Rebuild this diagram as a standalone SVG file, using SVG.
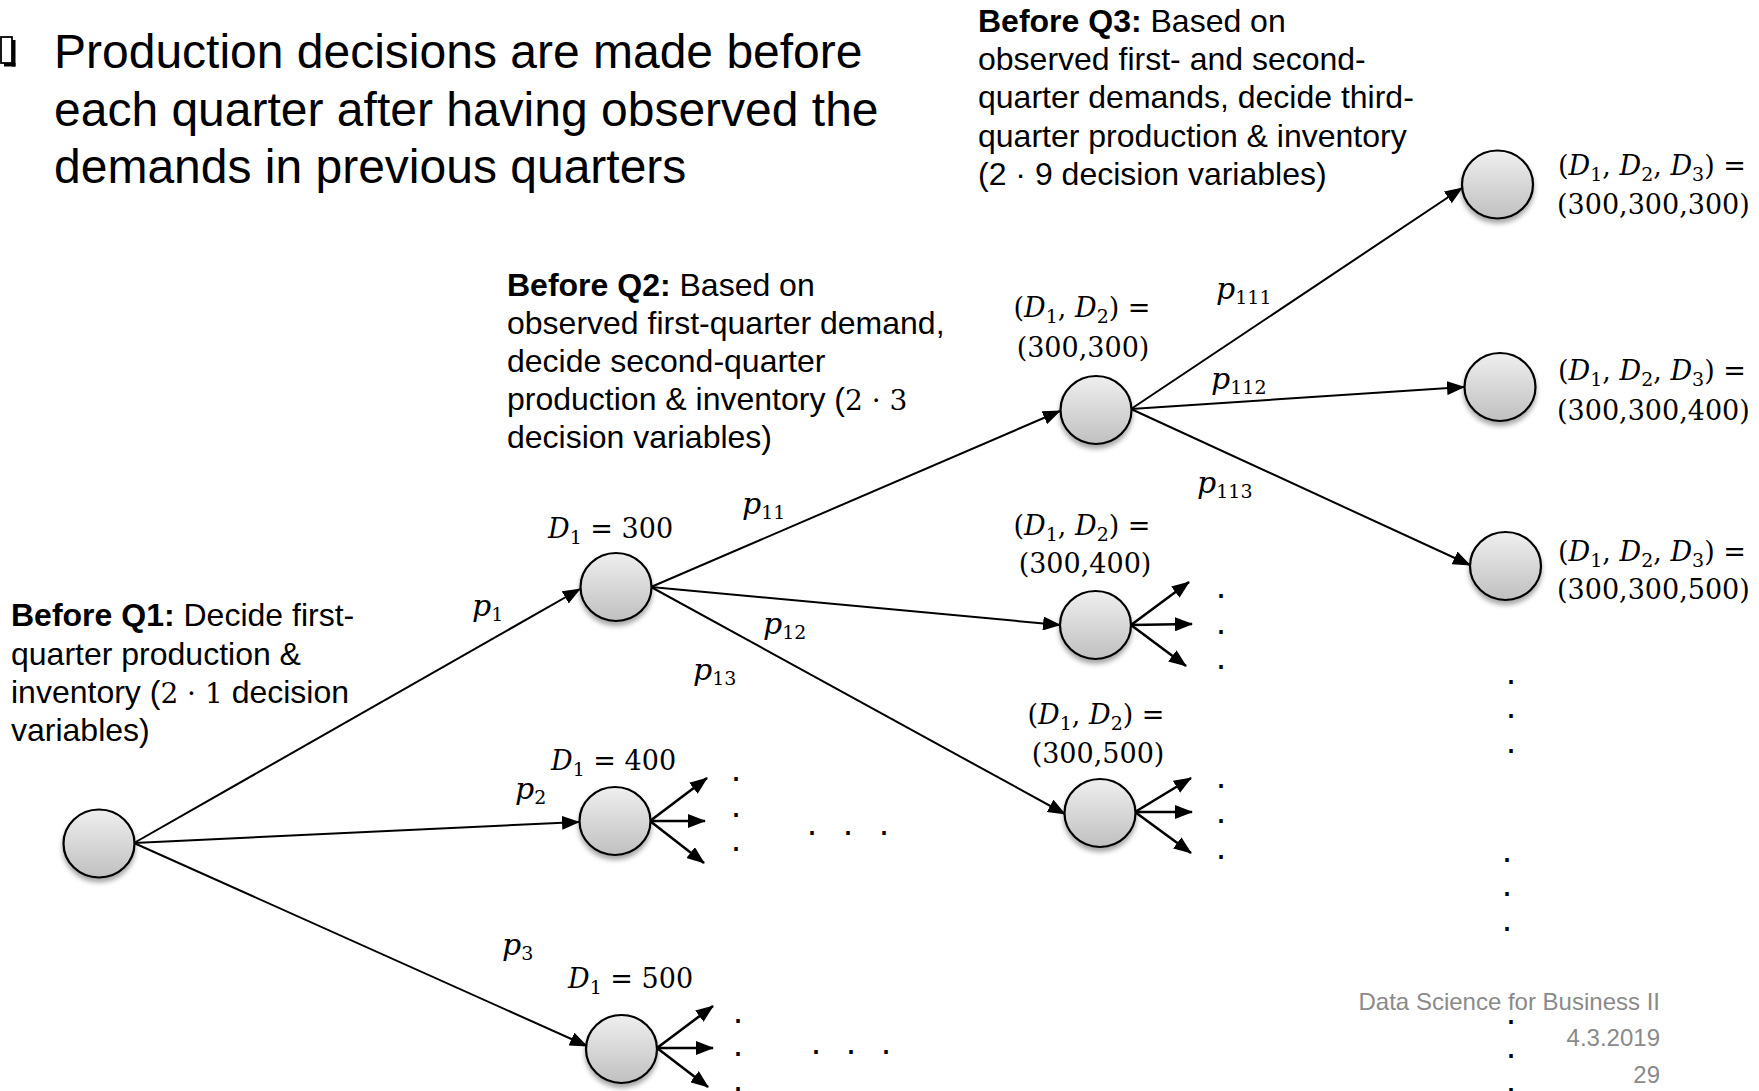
<svg xmlns="http://www.w3.org/2000/svg" width="1759" height="1091" viewBox="0 0 1759 1091">
<defs>
  <linearGradient id="g" x1="0" y1="0" x2="0" y2="1">
    <stop offset="0" stop-color="#efefef"/>
    <stop offset="1" stop-color="#c0c0c0"/>
  </linearGradient>
  <filter id="sh" x="-30%" y="-30%" width="160%" height="175%">
    <feDropShadow dx="0" dy="4" stdDeviation="2.5" flood-color="#000" flood-opacity="0.35"/>
  </filter>
  <marker id="ah" viewBox="0 0 18 14" refX="17" refY="7" markerWidth="18" markerHeight="14" markerUnits="userSpaceOnUse" orient="auto">
    <path d="M0,0 L18,7 L0,14 z" fill="#000"/>
  </marker>
</defs>
<style>
  .node{fill:url(#g);stroke:#000;stroke-width:2.2;filter:url(#sh)}
  .edge{stroke:#000;stroke-width:2;fill:none;marker-end:url(#ah)}
  .short{stroke-width:2.6}
  .txt{font-family:"Liberation Sans",Arial,sans-serif;font-size:32px;fill:#000}
  .big{font-size:48px}
  .b{font-weight:bold}
  .math{font-family:"DejaVu Serif","Liberation Serif",serif;font-size:27px;fill:#000}
  .pl{font-size:30px}
  .mi{font-family:"DejaVu Serif","Liberation Serif",serif;font-size:28px}
  .i{font-style:italic}
  .sub{font-size:19px}
  .dot{font-family:"Liberation Sans",Arial,sans-serif;font-size:36px;fill:#000;text-anchor:middle}
  .foot{font-family:"Liberation Sans",Arial,sans-serif;font-size:24px;fill:#8a8a8a;text-anchor:end}
</style>
<rect width="1759" height="1091" fill="#fff"/>

<!-- heading with bullet -->
<g id="heading">
  <rect x="1" y="37" width="11" height="26" fill="#fff" stroke="#000" stroke-width="1.8"/>
  <rect x="12" y="40" width="3.5" height="26.5" fill="#000"/>
  <rect x="4" y="63" width="11.5" height="3.5" fill="#000"/>
  <text class="txt big" x="54" y="68">Production decisions are made before</text>
  <text class="txt big" x="54" y="125.5">each quarter after having observed the</text>
  <text class="txt big" x="54" y="183">demands in previous quarters</text>
</g>

<g id="note-q1">
  <text class="txt" x="11" y="626"><tspan class="b">Before Q1:</tspan> Decide first-</text>
  <text class="txt" x="11" y="664.5">quarter production &amp;</text>
  <text class="txt" x="11" y="703">inventory (<tspan class="mi">2 · 1</tspan> decision</text>
  <text class="txt" x="11" y="741">variables)</text>
</g>

<g id="note-q2">
  <text class="txt" x="507" y="295.5"><tspan class="b">Before Q2:</tspan> Based on</text>
  <text class="txt" x="507" y="333.7">observed first-quarter demand,</text>
  <text class="txt" x="507" y="371.9">decide second-quarter</text>
  <text class="txt" x="507" y="410.1">production &amp; inventory (<tspan class="mi">2 · 3</tspan></text>
  <text class="txt" x="507" y="448.3">decision variables)</text>
</g>

<g id="note-q3">
  <text class="txt" x="978" y="32"><tspan class="b">Before Q3:</tspan> Based on</text>
  <text class="txt" x="978" y="70.2">observed first- and second-</text>
  <text class="txt" x="978" y="108.4">quarter demands, decide third-</text>
  <text class="txt" x="978" y="146.6">quarter production &amp; inventory</text>
  <text class="txt" x="978" y="184.8">(2 · 9 decision variables)</text>
</g>

<!-- connectors -->
<g id="connectors">
  <line class="edge" x1="134" y1="843" x2="580" y2="589"/>
  <line class="edge" x1="134" y1="843" x2="579" y2="822"/>
  <line class="edge" x1="134" y1="843" x2="587" y2="1046"/>
  <line class="edge" x1="651" y1="587" x2="1060" y2="411"/>
  <line class="edge" x1="651" y1="587" x2="1060" y2="625"/>
  <line class="edge" x1="651" y1="587" x2="1065" y2="814"/>
  <line class="edge" x1="1131" y1="409" x2="1462" y2="188"/>
  <line class="edge" x1="1131" y1="409" x2="1464" y2="387"/>
  <line class="edge" x1="1131" y1="409" x2="1470" y2="565"/>
  <line class="edge short" x1="650" y1="821" x2="707" y2="778"/>
  <line class="edge short" x1="650" y1="821" x2="705" y2="821"/>
  <line class="edge short" x1="650" y1="821" x2="704" y2="863"/>
  <line class="edge short" x1="657" y1="1048" x2="713" y2="1006"/>
  <line class="edge short" x1="657" y1="1048" x2="713" y2="1048"/>
  <line class="edge short" x1="657" y1="1048" x2="708" y2="1087"/>
  <line class="edge short" x1="1131" y1="625" x2="1189" y2="582"/>
  <line class="edge short" x1="1131" y1="625" x2="1192" y2="624"/>
  <line class="edge short" x1="1131" y1="625" x2="1186" y2="666"/>
  <line class="edge short" x1="1135" y1="812" x2="1191" y2="778"/>
  <line class="edge short" x1="1135" y1="812" x2="1192" y2="812"/>
  <line class="edge short" x1="1135" y1="812" x2="1191" y2="853"/>
</g>

<!-- probability labels -->
<g id="edge-labels">
  <text class="math pl" x="472" y="616"><tspan class="i">p</tspan><tspan class="sub" dy="5">1</tspan></text>
  <text class="math pl" x="515" y="799"><tspan class="i">p</tspan><tspan class="sub" dy="5">2</tspan></text>
  <text class="math pl" x="502" y="955"><tspan class="i">p</tspan><tspan class="sub" dy="5">3</tspan></text>
  <text class="math pl" x="742" y="514"><tspan class="i">p</tspan><tspan class="sub" dy="5">11</tspan></text>
  <text class="math pl" x="763" y="634"><tspan class="i">p</tspan><tspan class="sub" dy="5">12</tspan></text>
  <text class="math pl" x="693" y="680"><tspan class="i">p</tspan><tspan class="sub" dy="5">13</tspan></text>
  <text class="math pl" x="1216" y="299"><tspan class="i">p</tspan><tspan class="sub" dy="5">111</tspan></text>
  <text class="math pl" x="1211" y="389"><tspan class="i">p</tspan><tspan class="sub" dy="5">112</tspan></text>
  <text class="math pl" x="1197" y="493"><tspan class="i">p</tspan><tspan class="sub" dy="5">113</tspan></text>
</g>

<!-- nodes -->
<g id="n0"><ellipse class="node" cx="99" cy="843.5" rx="35.5" ry="34"/></g>

<g id="n1">
  <ellipse class="node" cx="616" cy="587" rx="35.5" ry="34"/>
  <text class="math" x="548" y="538"><tspan class="i">D</tspan><tspan class="sub" dy="6">1</tspan><tspan dy="-6"> = 300</tspan></text>
</g>
<g id="n2">
  <ellipse class="node" cx="615" cy="821" rx="35.5" ry="34"/>
  <text class="math" x="551" y="770"><tspan class="i">D</tspan><tspan class="sub" dy="6">1</tspan><tspan dy="-6"> = 400</tspan></text>
</g>
<g id="n3">
  <ellipse class="node" cx="621.5" cy="1049" rx="35.5" ry="34"/>
  <text class="math" x="568" y="988"><tspan class="i">D</tspan><tspan class="sub" dy="6">1</tspan><tspan dy="-6"> = 500</tspan></text>
</g>

<g id="n11">
  <ellipse class="node" cx="1096" cy="410" rx="35.5" ry="34"/>
  <text class="math" x="1082" y="317" text-anchor="middle">(<tspan class="i">D</tspan><tspan class="sub" dy="6">1</tspan><tspan dy="-6">, </tspan><tspan class="i">D</tspan><tspan class="sub" dy="6">2</tspan><tspan dy="-6">) =</tspan></text>
  <text class="math" x="1083" y="357" text-anchor="middle">(300,300)</text>
</g>
<g id="n12">
  <ellipse class="node" cx="1095.5" cy="625" rx="35.5" ry="34"/>
  <text class="math" x="1082" y="535" text-anchor="middle">(<tspan class="i">D</tspan><tspan class="sub" dy="6">1</tspan><tspan dy="-6">, </tspan><tspan class="i">D</tspan><tspan class="sub" dy="6">2</tspan><tspan dy="-6">) =</tspan></text>
  <text class="math" x="1085" y="573" text-anchor="middle">(300,400)</text>
</g>
<g id="n13">
  <ellipse class="node" cx="1100" cy="813" rx="35.5" ry="34"/>
  <text class="math" x="1096" y="724" text-anchor="middle">(<tspan class="i">D</tspan><tspan class="sub" dy="6">1</tspan><tspan dy="-6">, </tspan><tspan class="i">D</tspan><tspan class="sub" dy="6">2</tspan><tspan dy="-6">) =</tspan></text>
  <text class="math" x="1098" y="763" text-anchor="middle">(300,500)</text>
</g>

<g id="n111">
  <ellipse class="node" cx="1497.5" cy="184.5" rx="35.5" ry="34"/>
  <text class="math" x="1558" y="175">(<tspan class="i">D</tspan><tspan class="sub" dy="6">1</tspan><tspan dy="-6">, </tspan><tspan class="i">D</tspan><tspan class="sub" dy="6">2</tspan><tspan dy="-6">, </tspan><tspan class="i">D</tspan><tspan class="sub" dy="6">3</tspan><tspan dy="-6">) =</tspan></text>
  <text class="math" x="1557" y="214">(300,300,300)</text>
</g>
<g id="n112">
  <ellipse class="node" cx="1500" cy="387" rx="35.5" ry="34"/>
  <text class="math" x="1558" y="380">(<tspan class="i">D</tspan><tspan class="sub" dy="6">1</tspan><tspan dy="-6">, </tspan><tspan class="i">D</tspan><tspan class="sub" dy="6">2</tspan><tspan dy="-6">, </tspan><tspan class="i">D</tspan><tspan class="sub" dy="6">3</tspan><tspan dy="-6">) =</tspan></text>
  <text class="math" x="1557" y="420">(300,300,400)</text>
</g>
<g id="n113">
  <ellipse class="node" cx="1505.5" cy="566" rx="35.5" ry="34"/>
  <text class="math" x="1558" y="561">(<tspan class="i">D</tspan><tspan class="sub" dy="6">1</tspan><tspan dy="-6">, </tspan><tspan class="i">D</tspan><tspan class="sub" dy="6">2</tspan><tspan dy="-6">, </tspan><tspan class="i">D</tspan><tspan class="sub" dy="6">3</tspan><tspan dy="-6">) =</tspan></text>
  <text class="math" x="1557" y="599">(300,300,500)</text>
</g>

<!-- continuation dots -->
<g id="dots">
  <text class="dot" x="736" y="781">.</text>
  <text class="dot" x="736" y="817">.</text>
  <text class="dot" x="736" y="851">.</text>
  <text class="dot" x="812" y="835">.</text>
  <text class="dot" x="848" y="835">.</text>
  <text class="dot" x="884" y="835">.</text>
  <text class="dot" x="738" y="1023">.</text>
  <text class="dot" x="738" y="1056">.</text>
  <text class="dot" x="738" y="1091">.</text>
  <text class="dot" x="816" y="1054">.</text>
  <text class="dot" x="851" y="1054">.</text>
  <text class="dot" x="886" y="1054">.</text>
  <text class="dot" x="1221" y="598">.</text>
  <text class="dot" x="1221" y="634">.</text>
  <text class="dot" x="1221" y="669">.</text>
  <text class="dot" x="1221" y="788">.</text>
  <text class="dot" x="1221" y="823">.</text>
  <text class="dot" x="1221" y="859">.</text>
  <text class="dot" x="1511" y="684">.</text>
  <text class="dot" x="1511" y="718">.</text>
  <text class="dot" x="1511" y="753">.</text>
  <text class="dot" x="1507" y="862">.</text>
  <text class="dot" x="1507" y="896">.</text>
  <text class="dot" x="1507" y="931">.</text>
  <text class="dot" x="1511" y="1024">.</text>
  <text class="dot" x="1511" y="1058">.</text>
  <text class="dot" x="1511" y="1092">.</text>
</g>

<g id="footer">
  <text class="foot" x="1660" y="1010">Data Science for Business II</text>
  <text class="foot" x="1660" y="1046">4.3.2019</text>
  <text class="foot" x="1660" y="1083">29</text>
</g>
</svg>
